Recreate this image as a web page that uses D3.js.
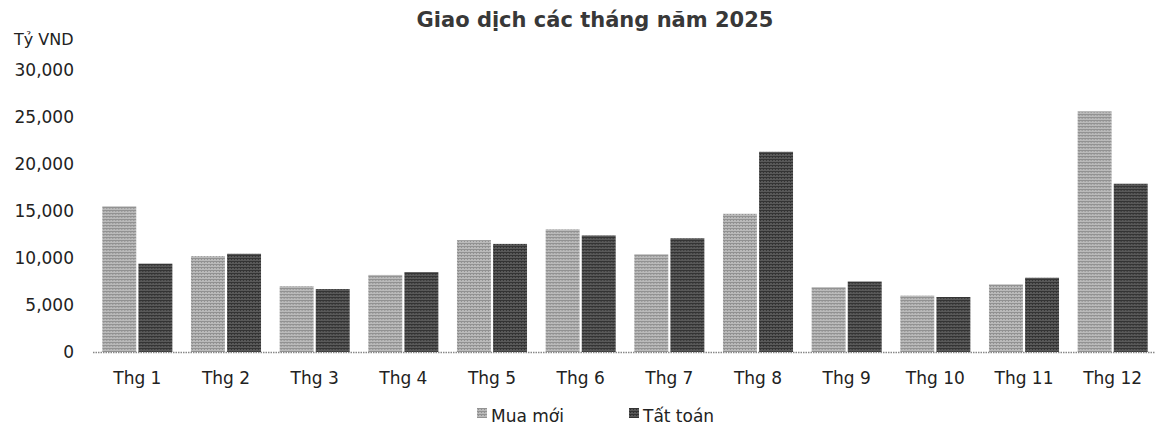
<!DOCTYPE html>
<html>
<head>
<meta charset="utf-8">
<script src="https://cdn.jsdelivr.net/npm/d3@7"></script>
<style>
  html, body { margin: 0; padding: 0; background: #fff; }
  svg { display: block; font-family: "DejaVu Sans", Verdana, sans-serif; }
</style>
</head>
<body>
<svg id="chart" width="1155" height="425"></svg>
<script>
// Monthly transactions, billion VND
const months = ["Thg 1", "Thg 2", "Thg 3", "Thg 4", "Thg 5", "Thg 6",
                "Thg 7", "Thg 8", "Thg 9", "Thg 10", "Thg 11", "Thg 12"];
const muaMoi  = [15500, 10200, 7000, 8200, 11900, 13050, 10400, 14700, 6900, 6000, 7200, 25600];
const tatToan = [9400, 10450, 6700, 8500, 11500, 12400, 12100, 21300, 7500, 5850, 7900, 17900];
const seriesNames = ["Mua mới", "Tất toán"];
const yTicks = [0, 5000, 10000, 15000, 20000, 25000, 30000];

const svg = d3.select("#chart");
const margin = { left: 93, right: -2, top: 70, bottom: 73 };
const W = 1155, H = 425;

// Halftone-like fills for the two series
const defs = svg.append("defs");
function makePattern(id, a, b) {
  const p = defs.append("pattern").attr("id", id)
    .attr("width", 3).attr("height", 3).attr("patternUnits", "userSpaceOnUse");
  p.append("rect").attr("width", 3).attr("height", 3).attr("fill", a);
  p.append("rect").attr("width", 3).attr("height", 1).attr("fill", b);
  p.append("rect").attr("x", 1).attr("y", 1).attr("width", 1).attr("height", 1).attr("fill", b);
}
makePattern("pLight", "#bababa", "#929292");
makePattern("pDark", "#595959", "#343434");
const fills = ["url(#pLight)", "url(#pDark)"];
const legendFills = ["url(#pLight)", "url(#pDark)"];

const x0 = d3.scaleBand().domain(months)
  .range([margin.left, W - margin.right]).paddingInner(0.21).paddingOuter(0.105);
const x1 = d3.scaleBand().domain(seriesNames).range([0, x0.bandwidth()]).paddingInner(0.06);
const y = d3.scaleLinear().domain([0, 30000]).range([H - margin.bottom, margin.top]);

// Title
svg.append("text").attr("x", 595).attr("y", 27).attr("text-anchor", "middle")
  .attr("font-size", 21).attr("font-weight", "bold").attr("fill", "#383838")
  .text("Giao dịch các tháng năm 2025");

// Unit label
svg.append("text").attr("x", 14).attr("y", 45).attr("font-size", 16).attr("fill", "#222")
  .text("Tỷ VND");

// Y axis labels
const fmt = d3.format(",");
const yAxis = d3.axisLeft(y).tickValues(yTicks).tickFormat(fmt).tickSize(0).tickPadding(0);
const yg = svg.append("g").attr("transform", "translate(74,0)").call(yAxis);
yg.select(".domain").remove();
yg.selectAll("text").attr("font-size", 17).attr("fill", "#222")
  .attr("font-family", "DejaVu Sans, Verdana, sans-serif");

// Bars
const rows = months.map((m, i) => ({ m, vals: [muaMoi[i], tatToan[i]] }));
const groups = svg.append("g").selectAll("g").data(rows).join("g")
  .attr("transform", d => `translate(${x0(d.m)},0)`);
groups.selectAll("rect").data(d => d.vals.map((v, k) => ({ v, k })))
  .join("rect")
  .attr("x", d => x1(seriesNames[d.k]))
  .attr("width", x1.bandwidth())
  .attr("y", d => y(d.v))
  .attr("height", d => y(0) - y(d.v))
  .attr("fill", d => fills[d.k]);

// Baseline
svg.append("line").attr("x1", margin.left).attr("x2", W)
  .attr("y1", y(0) + 0.5).attr("y2", y(0) + 0.5)
  .attr("stroke", "#888").attr("stroke-width", 1.5).attr("stroke-dasharray", "1.5,1");

// X axis labels
const xAxis = d3.axisBottom(x0).tickSize(0).tickPadding(0);
const xg = svg.append("g").attr("transform", `translate(0,${y(0) + 32})`).call(xAxis);
xg.select(".domain").remove();
xg.selectAll("text").attr("font-size", 17).attr("fill", "#222").attr("dy", 0)
  .attr("font-family", "DejaVu Sans, Verdana, sans-serif");

// Legend
const legendX = [477, 629];
const lg = svg.append("g").selectAll("g").data(seriesNames).join("g")
  .attr("transform", (d, i) => `translate(${legendX[i]},417)`);
lg.append("rect").attr("x", 0).attr("y", -9).attr("width", 10).attr("height", 10)
  .attr("fill", (d, i) => legendFills[i]);
lg.append("text").attr("x", 14).attr("y", 0).attr("dy", "0.3em").attr("font-size", 17).attr("fill", "#222")
  .text(d => d);
</script>
</body>
</html>
